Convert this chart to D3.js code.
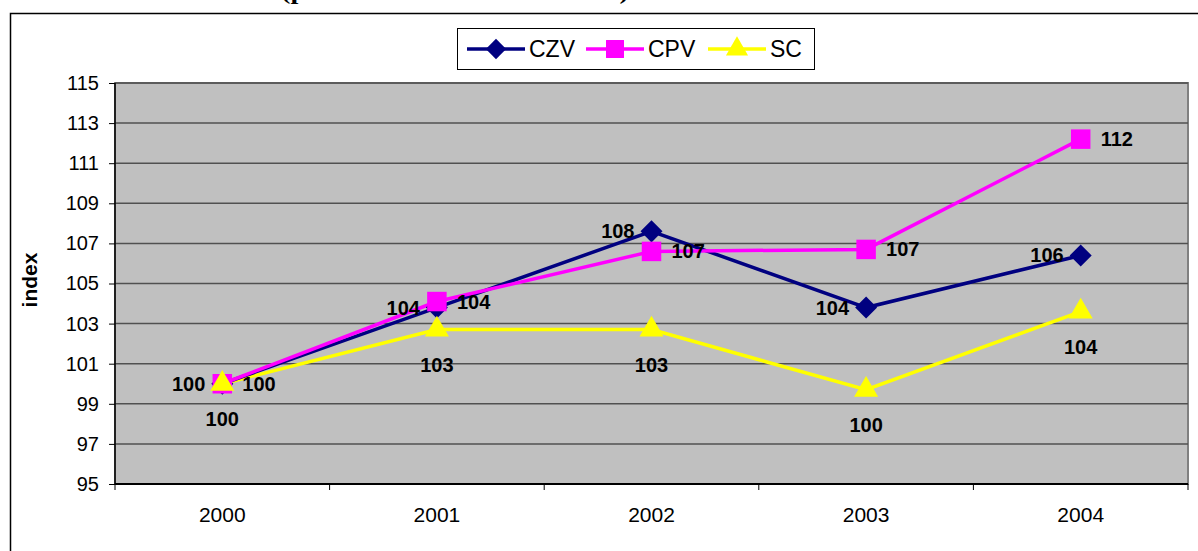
<!DOCTYPE html>
<html>
<head>
<meta charset="utf-8">
<script src="https://cdn.jsdelivr.net/npm/d3@7"></script>
<style>
  body { margin: 0; background: #fff; }
  svg { display: block; font-family: "Liberation Sans", Arial, sans-serif; }
</style>
</head>
<body>
<script>
// Chart data
const years = ["2000", "2001", "2002", "2003", "2004"];
const czv = [100, 103.8, 107.6, 103.8, 106.4];
const cpv = [100, 104.1, 106.6, 106.7, 112.2];
const sc = [100, 102.7, 102.7, 99.7, 103.6];
const yTicks = [95, 97, 99, 101, 103, 105, 107, 109, 111, 113, 115];
const seriesNames = ["CZV", "CPV", "SC"];

// Layout
const width = 1198;
const height = 551;
const margin = {top: 83, right: 10, bottom: 67, left: 115};

const svg = d3.select('body')
  .append('svg')
  .attr('width', width)
  .attr('height', height);

// title sits above the picture, only its descenders show
svg.append('text')
  .attr('x', 281)
  .attr('y', -1)
  .attr('font-family', '"Liberation Serif", "Times New Roman", serif')
  .attr('font-weight', 'bold')
  .attr('font-size', 24)
  .attr('textLength', 348)
  .attr('lengthAdjust', 'spacingAndGlyphs')
  .text('(průměr roku 2000 = 100 %)');

// outer frame
svg.append('rect')
  .attr('x', 10.5).attr('y', 13.5)
  .attr('width', width + 20).attr('height', height + 20)
  .attr('fill', 'none')
  .attr('stroke', '#000')
  .attr('stroke-width', 1.5);

// Scales
const xScale = d3.scaleBand()
  .domain(years)
  .range([margin.left, width - margin.right]);

const yScale = d3.scaleLinear()
  .domain([95, 115])
  .range([height - margin.bottom, margin.top]);

const cx = (d, i) => xScale(years[i]) + xScale.bandwidth() / 2;

// plot background
svg.append('rect')
  .attr('x', margin.left)
  .attr('y', margin.top)
  .attr('width', width - margin.right - margin.left)
  .attr('height', height - margin.bottom - margin.top)
  .attr('fill', '#c0c0c0')
  .attr('stroke', '#808080')
  .attr('stroke-width', 2);

// gridlines
svg.append('g')
  .selectAll('line')
  .data(yTicks.slice(1))
  .join('line')
  .attr('x1', margin.left)
  .attr('x2', width - margin.right)
  .attr('y1', d => yScale(d))
  .attr('y2', d => yScale(d))
  .attr('stroke', '#505050')
  .attr('stroke-width', 1.5);

// Axes
const yAxis = d3.axisLeft(yScale)
  .tickValues(yTicks)
  .tickSize(6)
  .tickPadding(10);

svg.append('g')
  .attr('transform', 'translate(' + margin.left + ',0)')
  .call(yAxis)
  .call(g => g.select('.domain').attr('stroke-width', 1.5).attr('d', 'M0,' + yScale(95) + 'V' + yScale(115)))
  .call(g => g.selectAll('text').attr('font-size', 20).attr('fill', '#000').attr('font-family', null));

const xAxis = d3.axisBottom(xScale)
  .tickSize(0)
  .tickPadding(23);

svg.append('g')
  .attr('transform', 'translate(0,' + yScale(95) + ')')
  .call(xAxis)
  .call(g => g.select('.domain').attr('stroke-width', 2).attr('d', 'M' + margin.left + ',0H' + (width - margin.right)))
  .call(g => g.selectAll('text').attr('font-size', 21).attr('fill', '#000').attr('font-family', null));

// tick marks at band boundaries
svg.append('g')
  .selectAll('line')
  .data(years.concat(['end']))
  .join('line')
  .attr('x1', (d, i) => i < years.length ? xScale(d) : width - margin.right)
  .attr('x2', (d, i) => i < years.length ? xScale(d) : width - margin.right)
  .attr('y1', yScale(95))
  .attr('y2', yScale(95) + 6)
  .attr('stroke', '#000')
  .attr('stroke-width', 1);

// axis title
svg.append('text')
  .attr('transform', 'translate(37,280) rotate(-90)')
  .attr('text-anchor', 'middle')
  .attr('font-weight', 'bold')
  .attr('font-size', 21)
  .text('index');

// Lines
const line = d3.line()
  .x(cx)
  .y(d => yScale(d));

const series = [
  {name: seriesNames[0], values: czv, color: '#000080', marker: d3.symbolDiamond, size: 140, sx: 1.73, labelPos: 'left'},
  {name: seriesNames[1], values: cpv, color: '#ff00ff', marker: d3.symbolSquare, size: 380, sx: 1, labelPos: 'right'},
  {name: seriesNames[2], values: sc, color: '#ffff00', marker: d3.symbolTriangle, size: 250, sx: 1, labelPos: 'below'}
];

// draw in order SC, CZV, CPV so pink sits over navy
[series[2], series[0], series[1]].forEach(s => {
  svg.append('path')
    .attr('fill', 'none')
    .attr('stroke', s.color)
    .attr('stroke-width', 3.5)
    .attr('d', line(s.values));
});

series.forEach(s => {
  svg.append('g')
    .selectAll('path')
    .data(s.values)
    .join('path')
    .attr('d', d3.symbol().type(s.marker).size(s.size))
    .attr('transform', (d, i) => 'translate(' + cx(d, i) + ',' + yScale(d) + ') scale(' + s.sx + ',1)')
    .attr('fill', s.color);
});

// Labels
series.forEach(s => {
  svg.append('g')
    .selectAll('text')
    .data(s.values)
    .join('text')
    .attr('x', (d, i) => {
      if (s.labelPos === 'left') return cx(d, i) - 17;
      if (s.labelPos === 'right') return cx(d, i) + 20;
      return cx(d, i);
    })
    .attr('y', d => s.labelPos === 'below' ? yScale(d) + 42 : yScale(d) + 7)
    .attr('text-anchor', s.labelPos === 'left' ? 'end' : (s.labelPos === 'right' ? 'start' : 'middle'))
    .attr('font-weight', 'bold')
    .attr('font-size', 20)
    .attr('fill', '#000')
    .text(d => Math.round(d));
});

// Legend
const legend = svg.append('g');
legend.append('rect')
  .attr('x', 457.5).attr('y', 28.5)
  .attr('width', 357).attr('height', 41)
  .attr('fill', '#fff')
  .attr('stroke', '#000')
  .attr('stroke-width', 1);

const legendX = [467, 586, 708];
series.forEach((s, i) => {
  const g = legend.append('g').attr('transform', 'translate(' + legendX[i] + ',49)');
  g.append('line')
    .attr('x1', 0).attr('x2', 58)
    .attr('stroke', s.color)
    .attr('stroke-width', 3.5);
  g.append('path')
    .attr('d', d3.symbol().type(s.marker).size(s.size * 0.85)())
    .attr('transform', 'translate(29,0) scale(' + s.sx + ',1)')
    .attr('fill', s.color);
  g.append('text')
    .attr('x', 62)
    .attr('y', 8)
    .attr('font-size', 23)
    .text(s.name);
});
</script>
</body>
</html>
